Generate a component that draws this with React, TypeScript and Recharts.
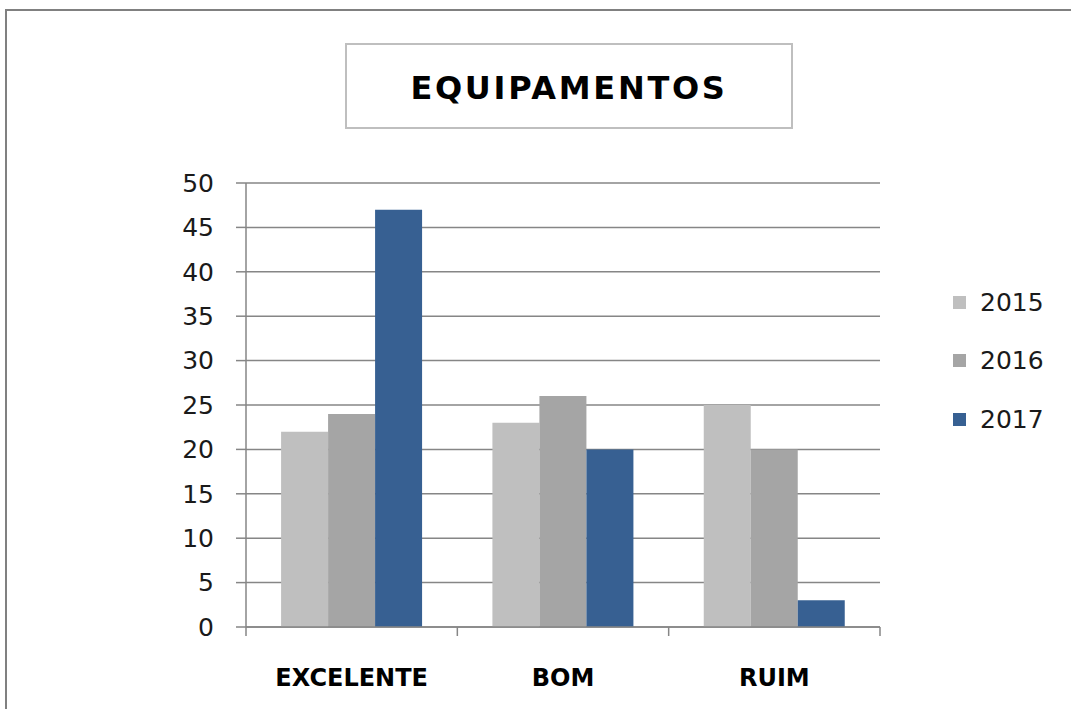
import React from 'react';
import { BarChart, Bar, XAxis, YAxis, CartesianGrid } from 'recharts';

const categories = ['EXCELENTE', 'BOM', 'RUIM'];
const values2015 = [22, 23, 25];
const values2016 = [24, 26, 20];
const values2017 = [47, 20, 3];
const seriesNames = ['2015', '2016', '2017'];
const seriesColors = ['#BFBFBF', '#A5A5A5', '#376092'];
const yTicks = [0, 5, 10, 15, 20, 25, 30, 35, 40, 45, 50];
const title = 'EQUIPAMENTOS';

const data = categories.map((name, i) => ({
  name,
  s2015: values2015[i],
  s2016: values2016[i],
  s2017: values2017[i],
}));
const seriesKeys = ['s2015', 's2016', 's2017'];

const FONT = '"DejaVu Sans", sans-serif';
const LINE = '#868686';
const X_TICK_MARGIN = 42;
const X_TICK_LEN = 9;

const CategoryTick = (props: any) => {
  const { x, y, payload, index, visibleTicksCount } = props;
  const half = payload && payload.offset ? payload.offset : 0;
  const axisY = y - X_TICK_MARGIN;
  const isLast = index === visibleTicksCount - 1;
  return (
    <g>
      <line x1={x - half} x2={x - half} y1={axisY} y2={axisY + X_TICK_LEN} stroke={LINE} strokeWidth={1.5} />
      {isLast && (
        <line x1={x + half} x2={x + half} y1={axisY} y2={axisY + X_TICK_LEN} stroke={LINE} strokeWidth={1.5} />
      )}
      <text x={x} y={y} dy="0.71em" textAnchor="middle" fontFamily={FONT} fontWeight="bold" fontSize={24} fill="#000">
        {payload.value}
      </text>
    </g>
  );
};

export default function App() {
  return (
    <div style={{ position: 'fixed', left: 0, top: 0, width: 1071, height: 709, background: '#fff', overflow: 'hidden' }}>
      <div style={{ position: 'absolute', left: 5, top: 9, width: 1100, height: 800, borderTop: '2px solid #808080', borderLeft: '2px solid #808080' }} />
      <div
        style={{
          position: 'absolute', left: 345, top: 43, width: 444, height: 79,
          border: '2px solid #BFBFBF', display: 'flex', alignItems: 'center', justifyContent: 'center',
          fontFamily: FONT, fontWeight: 'bold', fontSize: 32, letterSpacing: 2.7, paddingTop: 3, boxSizing: 'content-box',
          color: '#000', zIndex: 2,
        }}
      >
        {title}
      </div>
      <div style={{ position: 'absolute', left: 953, top: 273, fontFamily: FONT, zIndex: 2 }}>
        {seriesNames.map((n, i) => (
          <div key={n} style={{ display: 'flex', alignItems: 'center', height: 58.5 }}>
            <div style={{ width: 13, height: 13, background: seriesColors[i], marginRight: 14 }} />
            <span style={{ fontSize: 25, color: '#1a1a1a' }}>{n}</span>
          </div>
        ))}
      </div>
      <div style={{ position: 'absolute', left: 0, top: 0 }}>
        <BarChart
          width={1071}
          height={709}
          data={data}
          margin={{ top: 183, right: 191, bottom: 0, left: 0 }}
          barCategoryGap="16.6%"
          barGap={0}
        >
          <CartesianGrid vertical={false} stroke={LINE} strokeWidth={1.5} />
          <XAxis
            dataKey="name"
            axisLine={{ stroke: LINE, strokeWidth: 1.5 }}
            tickLine={false}
            tickSize={0}
            tickMargin={X_TICK_MARGIN}
            height={82}
            interval={0}
            tick={CategoryTick}
          />
          <YAxis
            domain={[0, 50]}
            ticks={yTicks}
            interval={0}
            width={246}
            tickSize={10}
            tickMargin={22}
            stroke={LINE}
            strokeWidth={1.5}
            tick={{ fontFamily: FONT, fontSize: 25, fill: '#1a1a1a' }}
          />
          {seriesKeys.map((k, i) => (
            <Bar key={k} dataKey={k} name={seriesNames[i]} fill={seriesColors[i]} isAnimationActive={false} />
          ))}
        </BarChart>
      </div>
    </div>
  );
}
